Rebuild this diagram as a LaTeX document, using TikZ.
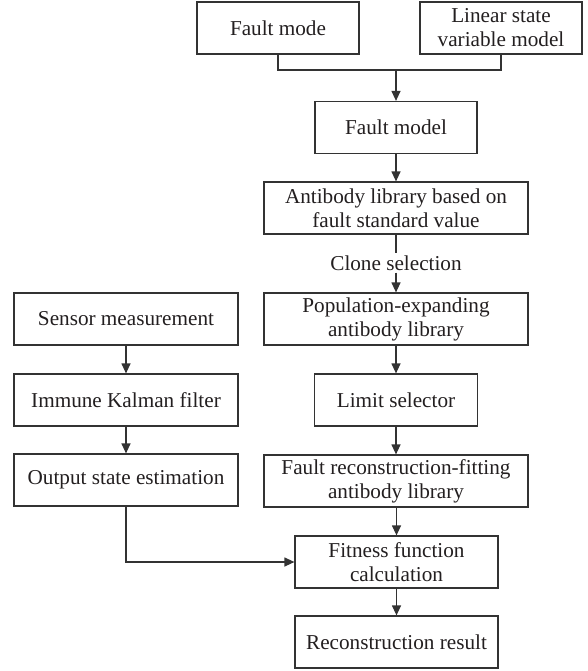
\documentclass[tikz,border=0pt]{standalone}
\usepackage{fontspec}
\setmainfont{Liberation Serif}
\usetikzlibrary{arrows.meta}
\definecolor{linec}{HTML}{333333}
\definecolor{textc}{HTML}{231F20}
\begin{document}
\begin{tikzpicture}[x=1pt,y=-1pt,
  box/.style={draw=linec, line width=1.2pt, fill=white, inner sep=0pt, align=center,
    font=\fontsize{21.2}{24}\selectfont, text=textc, minimum height=52pt},
  conn/.style={draw=linec, line width=1.2pt},
  arr/.style={conn, -{Triangle[length=10pt,width=9pt]}},
  lbl/.style={font=\fontsize{21.2}{24}\selectfont, text=textc, inner sep=2pt}]
\useasboundingbox (0,0) rectangle (587,671);
\node[box, minimum width=162pt] (fm) at (278,28) {Fault mode};
\node[box, minimum width=162pt] (lsv) at (501,28) {Linear state\\variable model};
\node[box, minimum width=162pt] (fmod) at (396,127.5) {Fault model};
\node[box, minimum width=264pt] (ab) at (396,208) {Antibody library based on\\fault standard value};
\node[lbl] (clone) at (396,263) {Clone selection};
\node[box, minimum width=264pt] (pop) at (396,319) {Population-expanding\\antibody library};
\node[box, minimum width=163pt] (lim) at (396,400) {Limit selector};
\node[box, minimum width=264pt] (fr) at (396,481) {Fault reconstruction-fitting\\antibody library};
\node[box, minimum width=224pt] (sen) at (126,319) {Sensor measurement};
\node[box, minimum width=224pt] (imm) at (126,400) {Immune Kalman filter};
\node[box, minimum width=224pt] (out) at (126,480) {Output state estimation};
\node[box, minimum width=203pt] (fit) at (396.5,562) {Fitness function\\calculation};
\node[box, minimum width=203pt] (rec) at (396.5,642) {Reconstruction result};
\coordinate (j) at (396,70);
\draw[conn] (fm.south) |- (j) -| (lsv.south);
\draw[arr] (j) -- (fmod.north);
\draw[arr] (fmod.south) -- (ab.north);
\draw[conn] (ab.south) -- (clone.north);
\draw[arr] (clone.south) -- (pop.north);
\draw[arr] (pop.south) -- (lim.north);
\draw[arr] (lim.south) -- (fr.north);
\draw[arr] (fr.south -| fit.north) -- (fit.north);
\draw[arr] (fit.south) -- (rec.north);
\draw[arr] (sen.south) -- (imm.north);
\draw[arr] (imm.south) -- (out.north);
\draw[arr] (out.south) |- (fit.west);
\end{tikzpicture}
\end{document}
